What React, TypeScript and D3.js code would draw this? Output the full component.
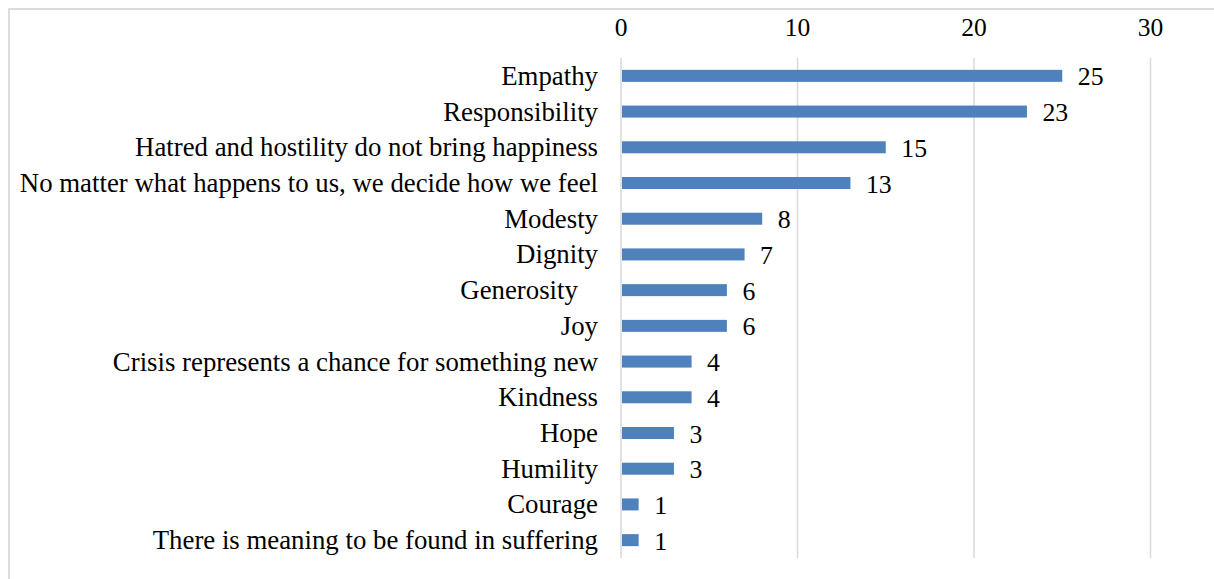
import React from "react";
import * as d3 from "d3";

const categories: string[] = [
  "Empathy",
  "Responsibility",
  "Hatred and hostility do not bring happiness",
  "No matter what happens to us, we decide how we feel",
  "Modesty",
  "Dignity",
  "Generosity   ",
  "Joy",
  "Crisis represents a chance for something new",
  "Kindness",
  "Hope",
  "Humility",
  "Courage",
  "There is meaning to be found in suffering",
];
const values: number[] = [25, 23, 15, 13, 8, 7, 6, 6, 4, 4, 3, 3, 1, 1];
const tickValues: number[] = [0, 10, 20, 30];

const W = 1214;
const H = 579;
const FONT = "'Liberation Serif', 'Times New Roman', serif";

export default function App() {
  const x = d3.scaleLinear().domain([0, 30]).range([621, 1150.5]);
  const y = d3
    .scaleBand<string>()
    .domain(categories)
    .range([58, 558])
    .paddingInner(0.664)
    .paddingOuter(0.332);
  const bw = y.bandwidth();

  return (
    <svg
      width={W}
      height={H}
      style={{ position: "absolute", left: 0, top: 0, background: "#fff" }}
    >
      <rect x={9} y={9} width={1300} height={700} fill="#fff" stroke="#d9d9d9" strokeWidth={1.8} />
      {tickValues.map((t) => (
        <g key={t}>
          <line x1={x(t)} x2={x(t)} y1={58} y2={558} stroke="#d9d9d9" strokeWidth={1.5} />
          <text
            x={x(t)}
            y={35.5}
            textAnchor="middle"
            fontFamily={FONT}
            fontSize={25.5}
            fill="#000"
          >
            {t}
          </text>
        </g>
      ))}
      {categories.map((c, i) => {
        const cy = (y(c) as number) + bw / 2;
        return (
          <g key={c}>
            <rect
              x={x(0) + 1}
              y={y(c) as number}
              width={x(values[i]) - x(0) - 1}
              height={bw}
              fill="#4f81bd"
            />
            <text
              x={598}
              y={cy + 9}
              textAnchor="end"
              fontFamily={FONT}
              fontSize={26.8}
              fill="#000"
              style={{ whiteSpace: "pre" }}
            >
              {c}
            </text>
            <text
              x={x(values[i]) + 15.5}
              y={cy + 9.5}
              fontFamily={FONT}
              fontSize={25.8}
              fill="#000"
            >
              {values[i]}
            </text>
          </g>
        );
      })}
    </svg>
  );
}
